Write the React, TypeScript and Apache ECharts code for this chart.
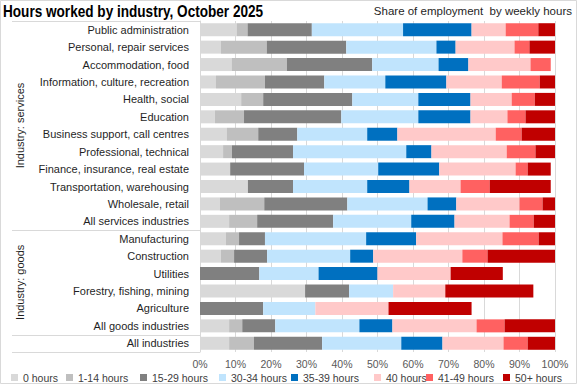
import React, { useEffect, useRef } from "react";
import * as echarts from "echarts";

const categories = [
  "Public administration",
  "Personal, repair services",
  "Accommodation, food",
  "Information, culture, recreation",
  "Health, social",
  "Education",
  "Business support, call centres",
  "Professional, technical",
  "Finance, insurance, real estate",
  "Transportation, warehousing",
  "Wholesale, retail",
  "All services industries",
  "Manufacturing",
  "Construction",
  "Utilities",
  "Forestry, fishing, mining",
  "Agriculture",
  "All goods industries",
  "All industries",
];

const seriesNames = [
  "0 hours",
  "1-14 hours",
  "15-29 hours",
  "30-34 hours",
  "35-39 hours",
  "40 hours",
  "41-49 hours",
  "50+ hours",
];

const hours0 = [10.3, 5.9, 8.9, 4.5, 11.6, 4.2, 7.6, 6.5, 8.5, 13.5, 5.6, 8.2, 7.3, 5.9, 0, 29.6, 0, 8.2, 8.2];
const hours1to14 = [3.1, 12.9, 15.6, 13.8, 6.2, 8.2, 8.8, 2.5, 0, 0, 12.5, 7.9, 3.7, 3.7, 0, 0, 0, 3.7, 7.0];
const hours15to29 = [18.1, 22.4, 24.0, 16.7, 25.1, 27.4, 11.0, 17.2, 20.8, 12.7, 23.4, 21.4, 7.3, 9.3, 16.7, 12.4, 17.8, 9.3, 19.2];
const hours30to34 = [25.7, 25.4, 18.7, 17.2, 18.6, 21.7, 19.7, 31.9, 20.9, 20.9, 22.6, 22.0, 28.5, 23.4, 16.7, 12.4, 14.7, 23.7, 22.3];
const hours35to39 = [19.3, 5.4, 8.4, 17.2, 14.7, 14.7, 8.5, 7.1, 17.2, 11.9, 8.1, 12.2, 14.1, 6.5, 16.6, 0, 0, 9.3, 11.6];
const hours40 = [9.6, 16.6, 17.5, 15.6, 11.6, 10.4, 27.7, 21.2, 21.5, 14.4, 17.8, 15.5, 24.3, 25.1, 20.6, 14.7, 20.6, 23.7, 17.2];
const hours41to49 = [9.2, 4.2, 5.7, 10.7, 6.5, 5.1, 7.3, 8.1, 3.4, 8.2, 6.5, 6.8, 10.2, 7.1, 0, 0, 0, 7.9, 6.8];
const hours50plus = [4.7, 7.2, 0, 4.3, 5.7, 8.3, 9.4, 5.5, 6.5, 17.2, 3.5, 6.0, 4.6, 19.0, 14.7, 24.8, 23.4, 14.2, 7.7];

const seriesValues = [hours0, hours1to14, hours15to29, hours30to34, hours35to39, hours40, hours41to49, hours50plus];
const colors = ["#d9d9d9", "#bfbfbf", "#808080", "#c0e4fd", "#0070c0", "#ffc9c9", "#ff6161", "#c00000"];

const groups = [
  { label: "Industry: services", from: 0, to: 11 },
  { label: "Industry: goods", from: 12, to: 17 },
  { label: "", from: 18, to: 18 },
];

const titleText = "Hours worked by industry, October 2025";
const subtitleText = "Share of employment  by weekly hours";

// legend item left positions (layout)
const legendLeft = [11, 66, 140, 219, 291, 374, 426, 503];

const FONT = "'Liberation Sans', Arial, sans-serif";

export default function App() {
  const ref = useRef<HTMLDivElement>(null);
  useEffect(() => {
    document.body.style.margin = "0";
    const chart = echarts.init(ref.current!, null, { renderer: "svg" });
    const series = seriesNames.map((name, i) => ({
      name,
      type: "bar",
      stack: "total",
      data: seriesValues[i],
      barWidth: 13,
      itemStyle: { color: colors[i] },
      emphasis: { disabled: true },
    }));
    const legends = seriesNames.map((name, i) => ({
      data: [name],
      top: 372,
      left: legendLeft[i],
      padding: 0,
      itemWidth: 7,
      itemHeight: 7,
      icon: "rect",
      textStyle: { color: "#404040", fontSize: 10.5, fontFamily: FONT, lineHeight: 11 },
    }));
    chart.setOption({
      animation: false,
      grid: { left: 200, right: 22, top: 21, bottom: 32 },
      xAxis: {
        type: "value",
        min: 0,
        max: 100,
        interval: 10,
        axisLabel: { formatter: "{value}%", color: "#595959", fontSize: 10.5, margin: 6, lineHeight: 11, fontFamily: FONT },
        splitLine: { lineStyle: { color: "#d9d9d9" } },
        axisLine: { show: false },
        axisTick: { show: false },
      },
      yAxis: {
        type: "category",
        inverse: true,
        data: categories,
        axisLabel: { color: "#1f1f1f", fontSize: 11, margin: 11, fontFamily: FONT },
        axisTick: { show: false },
        axisLine: { show: true, lineStyle: { color: "#d9d9d9" } },
      },
      legend: legends,
      series,
    });

    const yAt = (i: number) => chart.convertToPixel({ yAxisIndex: 0 }, i) as number;
    const step = yAt(1) - yAt(0);
    const edgeTop = (i: number) => yAt(i) - step / 2;
    const edgeBottom = (i: number) => yAt(i) + step / 2;
    const x0 = chart.convertToPixel({ xAxisIndex: 0 }, 0) as number;

    const graphics: any[] = [
      {
        type: "rect",
        shape: { x: 0.5, y: 0.5, width: 576, height: 383 },
        style: { fill: "none", stroke: "#d9d9d9", lineWidth: 1 },
        silent: true,
      },
      {
        type: "text",
        x: 3,
        y: 12,
        scaleX: 0.85,
        style: { text: titleText, fontSize: 16, fontWeight: "bold", fontFamily: FONT, fill: "#000", verticalAlign: "middle", align: "left" },
      },
      {
        type: "text",
        x: 572,
        y: 11,
        style: { text: subtitleText, fontSize: 11.5, fontFamily: FONT, fill: "#1f1f1f", verticalAlign: "middle", align: "right" },
      },
    ];
    const lineYs = [edgeTop(0)];
    groups.forEach((g) => lineYs.push(edgeBottom(g.to)));
    lineYs.forEach((y) => {
      const yy = Math.round(y) + 0.5;
      graphics.push({
        type: "line",
        shape: { x1: 12, y1: yy, x2: x0, y2: yy },
        style: { stroke: "#d9d9d9", lineWidth: 1 },
        silent: true,
      });
    });
    groups.forEach((g) => {
      if (!g.label) return;
      const cy = (edgeTop(g.from) + edgeBottom(g.to)) / 2;
      graphics.push({
        type: "text",
        x: 20,
        y: cy,
        rotation: Math.PI / 2,
        style: { text: g.label, fontSize: 11, fontFamily: FONT, fill: "#1f1f1f", align: "center", verticalAlign: "middle" },
      });
    });
    chart.setOption({ graphic: graphics });

    return () => chart.dispose();
  }, []);
  return <div ref={ref} style={{ width: 577, height: 384 }} />;
}
